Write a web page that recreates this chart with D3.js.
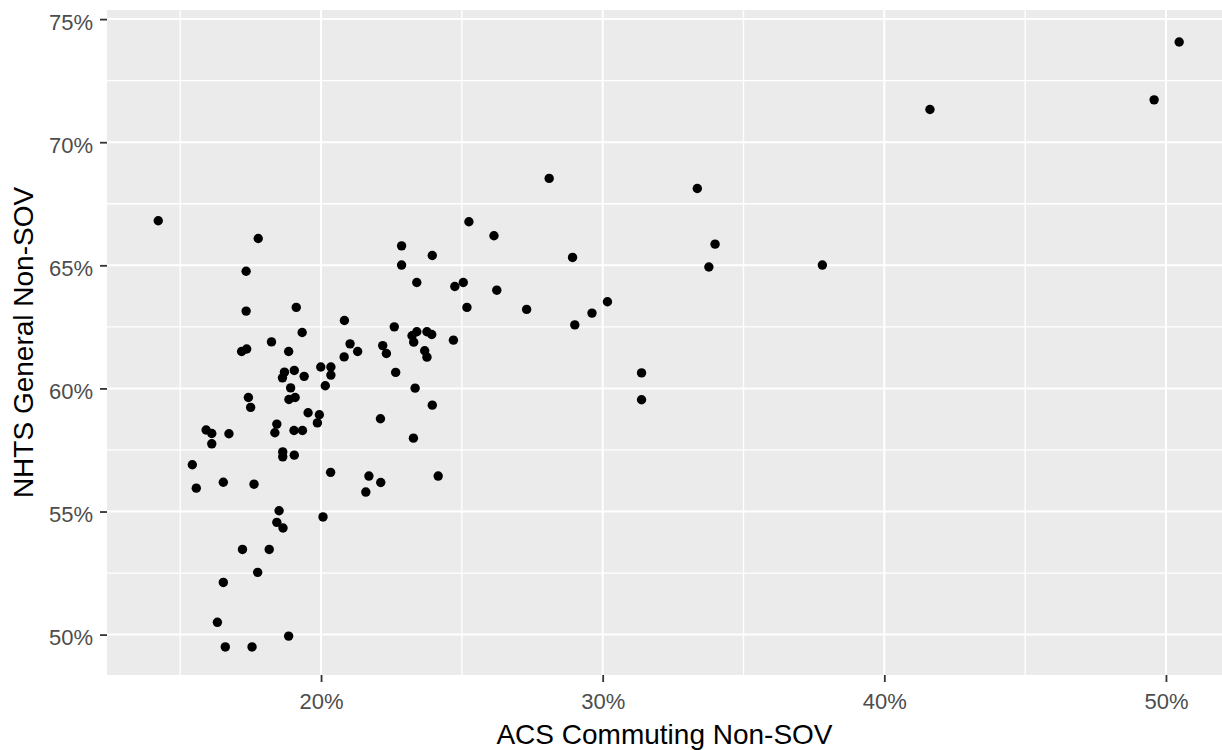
<!DOCTYPE html>
<html>
<head>
<meta charset="utf-8">
<script src="https://cdn.jsdelivr.net/npm/d3@7"></script>
<style>
    body { margin: 0; background: #ffffff; }
    svg text { font-family: "Liberation Sans", Arial, sans-serif; }
</style>
</head>
<body>
<div id="cntr"></div>
<script>
// Values, in percent
const acsNonSov = [
    14.22, 17.77, 17.34, 17.34, 19.12, 19.33, 18.24, 17.18, 17.36, 18.85,
    19.99, 20.35, 20.35, 18.70, 18.63, 19.05, 19.40, 20.15, 18.92, 18.86,
    19.08, 17.42, 17.50, 19.54, 19.94, 19.87, 15.92, 16.12, 16.73, 18.43,
    18.36, 19.04, 19.34, 16.12, 18.64, 18.64, 19.05, 15.43, 20.34, 16.53,
    15.57, 17.62, 18.51, 20.07, 18.43, 18.65, 17.21, 18.16, 17.75, 16.53,
    16.32, 18.85, 16.60, 17.55, 25.25, 26.14, 22.86, 23.95, 22.86, 23.40,
    24.75, 25.05, 26.24, 25.18, 20.83, 22.60, 23.23, 23.40, 23.76, 23.93,
    23.29, 24.70, 21.03, 21.30, 22.19, 22.32, 23.68, 23.76, 20.82, 22.65,
    23.34, 23.95, 22.11, 23.28, 21.70, 22.12, 24.16, 21.59, 28.10, 33.36,
    33.99, 28.93, 33.77, 37.80, 27.30, 30.17, 29.62, 29.01, 31.38, 31.38,
    50.47, 49.58, 41.62
];
const nhtsNonSov = [
    66.81, 66.09, 64.76, 63.14, 63.29, 62.27, 61.89, 61.50, 61.60, 61.50,
    60.87, 60.87, 60.54, 60.66, 60.43, 60.73, 60.49, 60.11, 60.02, 59.55,
    59.63, 59.63, 59.23, 59.01, 58.93, 58.60, 58.31, 58.17, 58.16, 58.55,
    58.20, 58.29, 58.29, 57.75, 57.42, 57.22, 57.29, 56.90, 56.59, 56.19,
    55.95, 56.11, 55.03, 54.78, 54.56, 54.33, 53.46, 53.46, 52.53, 52.12,
    50.50, 49.94, 49.50, 49.50, 66.77, 66.20, 65.79, 65.40, 65.01, 64.30,
    64.14, 64.30, 63.99, 63.29, 62.76, 62.50, 62.14, 62.30, 62.30, 62.19,
    61.88, 61.96, 61.81, 61.50, 61.74, 61.42, 61.53, 61.27, 61.28, 60.65,
    60.01, 59.32, 58.77, 57.98, 56.44, 56.18, 56.44, 55.79, 68.53, 68.12,
    65.86, 65.32, 64.93, 65.01, 63.21, 63.52, 63.06, 62.58, 60.63, 59.54,
    74.07, 71.72, 71.33
];

const xTicks = [20, 30, 40, 50];
const xMinorTicks = [15, 25, 35, 45];
const yTicks = [50, 55, 60, 65, 70, 75];
const yMinorTicks = [52.5, 57.5, 62.5, 67.5, 72.5];

const xTitle = "ACS Commuting Non-SOV";
const yTitle = "NHTS General Non-SOV";

const width = 1222;
const height = 750;
const panel = {left: 107, right: 1222, top: 10, bottom: 675};

const x = d3.scaleLinear()
    .domain([12.40, 51.99])
    .range([panel.left, panel.right]);

const y = d3.scaleLinear()
    .domain([48.36, 75.37])
    .range([panel.bottom, panel.top]);

const svg = d3.select("#cntr")
    .append("svg")
    .attr("width", width)
    .attr("height", height);

// panel background
svg.append("rect")
    .attr("x", panel.left)
    .attr("y", panel.top)
    .attr("width", panel.right - panel.left)
    .attr("height", panel.bottom - panel.top)
    .style("fill", "#ebebeb");

// grid: minor first, then major
const grid = svg.append("g");

grid.selectAll(".xminor")
    .data(xMinorTicks)
    .join("line")
        .attr("x1", d => x(d)).attr("x2", d => x(d))
        .attr("y1", panel.top).attr("y2", panel.bottom)
        .style("stroke", "#ffffff")
        .style("stroke-width", 1.3);

grid.selectAll(".yminor")
    .data(yMinorTicks)
    .join("line")
        .attr("y1", d => y(d)).attr("y2", d => y(d))
        .attr("x1", panel.left).attr("x2", panel.right)
        .style("stroke", "#ffffff")
        .style("stroke-width", 1.3);

grid.selectAll(".xmajor")
    .data(xTicks)
    .join("line")
        .attr("x1", d => x(d)).attr("x2", d => x(d))
        .attr("y1", panel.top).attr("y2", panel.bottom)
        .style("stroke", "#ffffff")
        .style("stroke-width", 2);

grid.selectAll(".ymajor")
    .data(yTicks)
    .join("line")
        .attr("y1", d => y(d)).attr("y2", d => y(d))
        .attr("x1", panel.left).attr("x2", panel.right)
        .style("stroke", "#ffffff")
        .style("stroke-width", 2);

// points
const points = acsNonSov.map((d, i) => ({acs: d, nhts: nhtsNonSov[i]}));

svg.append("g")
    .selectAll("circle")
    .data(points)
    .join("circle")
        .attr("cx", d => x(d.acs))
        .attr("cy", d => y(d.nhts))
        .attr("r", 4.7)
        .style("fill", "#000000");

// axes
const pct = d => d + "%";

const xAxis = svg.append("g")
    .attr("transform", "translate(0," + panel.bottom + ")")
    .call(d3.axisBottom(x).tickValues(xTicks).tickFormat(pct).tickSize(7).tickPadding(11));

const yAxis = svg.append("g")
    .attr("transform", "translate(" + panel.left + ",0)")
    .call(d3.axisLeft(y).tickValues(yTicks).tickFormat(pct).tickSize(7).tickPadding(7));

[xAxis, yAxis].forEach(a => {
    a.select(".domain").remove();
    a.selectAll(".tick line")
        .style("stroke", "#333333")
        .style("stroke-width", 1.8);
    a.selectAll(".tick text")
        .style("fill", "#4d4d4d")
        .style("font-size", "22px");
});

// y labels sit a little below their ticks in the original
yAxis.selectAll(".tick text").attr("dy", "0.45em");

// titles
svg.append("text")
    .attr("x", (panel.left + panel.right) / 2)
    .attr("y", 744)
    .style("text-anchor", "middle")
    .style("font-size", "28px")
    .style("fill", "#000000")
    .text(xTitle);

svg.append("text")
    .attr("transform", "translate(33," + (panel.top + panel.bottom) / 2 + ") rotate(-90)")
    .style("text-anchor", "middle")
    .style("font-size", "28px")
    .style("fill", "#000000")
    .text(yTitle);
</script>
</body>
</html>
